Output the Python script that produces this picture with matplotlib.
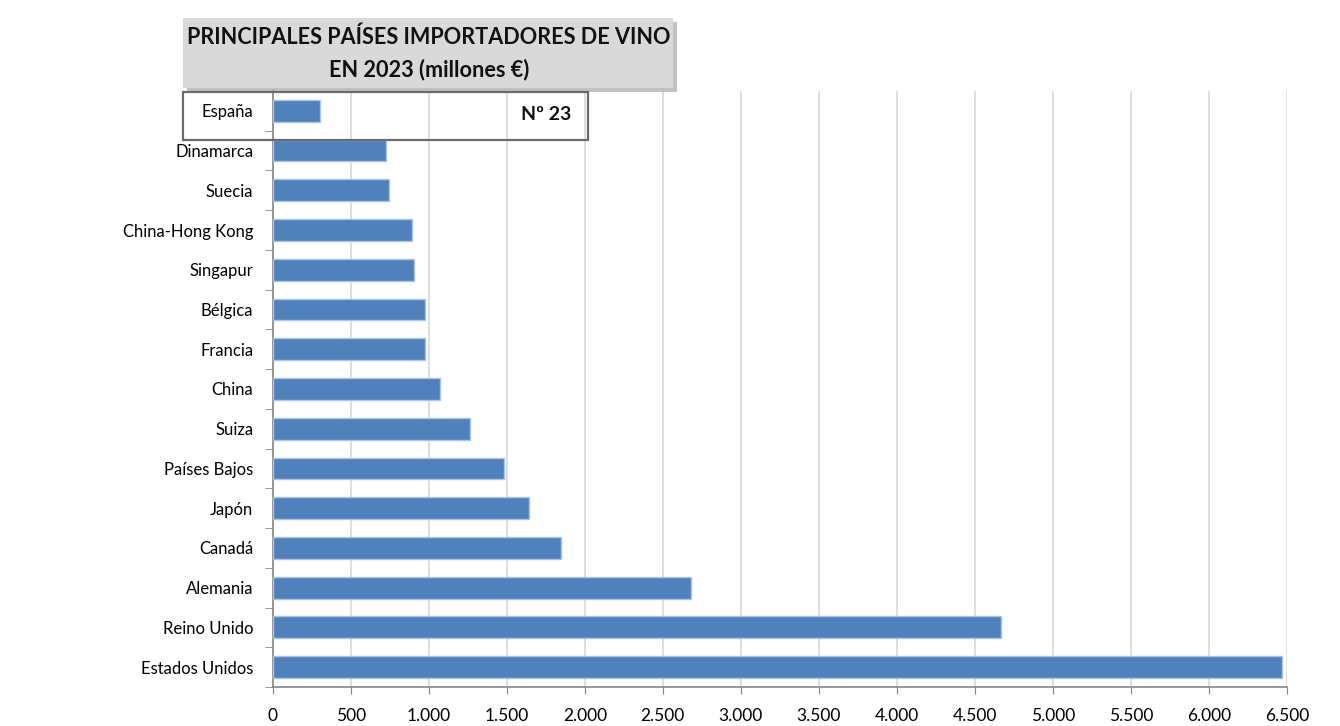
import matplotlib.pyplot as plt
from matplotlib.patches import Rectangle
import numpy as np

plt.rcParams['font.family'] = ['Lato', 'DejaVu Sans']

# datos (millones de euros), de arriba a abajo
paises = ["España", "Dinamarca", "Suecia", "China-Hong Kong", "Singapur", "Bélgica",
          "Francia", "China", "Suiza", "Países Bajos", "Japón", "Canadá",
          "Alemania", "Reino Unido", "Estados Unidos"]
valores = [305, 725, 745, 895, 905, 975, 975, 1075, 1262, 1485, 1645, 1850,
           2680, 4670, 6470]
ticks_x = [0, 500, 1000, 1500, 2000, 2500, 3000, 3500, 4000, 4500, 5000, 5500, 6000, 6500]
etiquetas_x = ["0", "500", "1.000", "1.500", "2.000", "2.500", "3.000", "3.500",
               "4.000", "4.500", "5.000", "5.500", "6.000", "6.500"]

fig = plt.figure(figsize=(13.4, 7.26), dpi=100)
ax = fig.add_axes([0.2035, 0.0537, 0.7570, 0.8210])

y = np.arange(len(paises))
ax.barh(y, valores, height=0.55, color="#4f81bd", edgecolor="#a9c4e6", linewidth=1, zorder=3)
ax.set_ylim(len(paises) - 0.5, -0.5)
ax.set_xlim(0, 6500)

ax.set_xticks(ticks_x)
ax.set_xticklabels(etiquetas_x, fontsize=12.5)
ax.set_yticks(y)
ax.set_yticklabels(paises, fontsize=12)
ax.tick_params(axis="y", length=0, pad=14)
ax.tick_params(axis="x", length=5, color="#868686", pad=10)

# marcas del eje y entre categorias (estilo Excel)
ax.set_yticks(np.arange(-0.5, len(paises), 1), minor=True)
ax.tick_params(axis="y", which="minor", length=6, color="#868686")

ax.grid(axis="x", color="#d9d9d9", linewidth=1.2, zorder=0)
ax.set_axisbelow(True)
for s in ["top", "right"]:
    ax.spines[s].set_visible(False)
ax.spines["left"].set_color("#868686")
ax.spines["bottom"].set_color("#868686")
ax.spines["left"].set_linewidth(1.2)
ax.spines["bottom"].set_linewidth(1.2)

# caja del titulo con sombra
W, H = 1340, 726
def fx(px):
    return px / W
def fy(py):
    return 1 - py / H

sombra = Rectangle((fx(187), fy(92)), fx(490), 70 / H, transform=fig.transFigure,
                   facecolor="#9a9a9a", edgecolor="none", alpha=0.6, zorder=1)
fig.patches.append(sombra)
caja = Rectangle((fx(183), fy(88)), fx(490), 70 / H, transform=fig.transFigure,
                 facecolor="#d9d9d9", edgecolor="none", zorder=2)
fig.patches.append(caja)
fig.text(fx(429), fy(37), "PRINCIPALES PAÍSES IMPORTADORES DE VINO", ha="center", va="center",
         fontsize=15.6, fontweight="bold", color="#111111")
fig.text(fx(429), fy(70), "EN 2023 (millones €)", ha="center", va="center",
         fontsize=15.6, fontweight="bold", color="#111111")

# recuadro de España
recuadro = Rectangle((fx(183), fy(140)), fx(405), 48 / H, transform=fig.transFigure,
                     facecolor="none", edgecolor="#6b6b6b", linewidth=1.6, zorder=5)
fig.patches.append(recuadro)
fig.text(fx(546), fy(114), "Nº 23", ha="center", va="center", fontsize=14,
         fontweight="bold", color="#111111")

fig.savefig("out.png", dpi=100)
